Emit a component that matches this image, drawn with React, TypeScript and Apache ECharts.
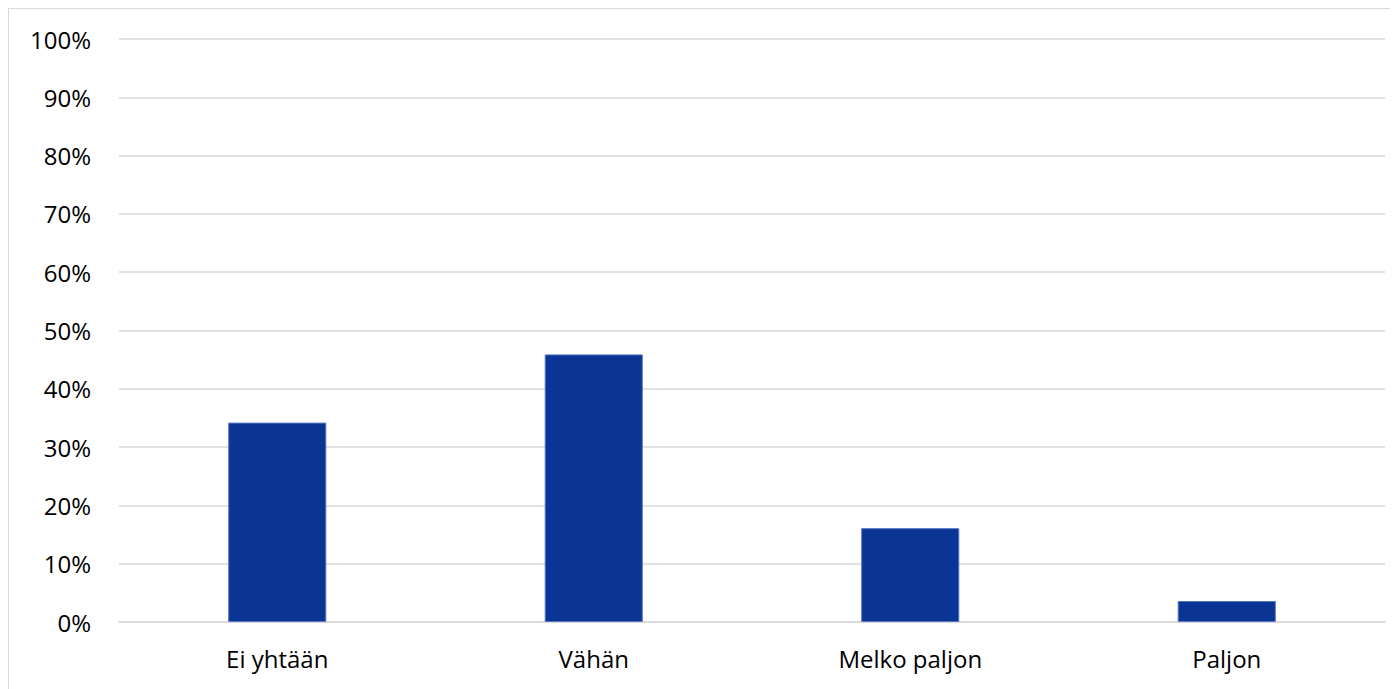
import React, { useEffect, useRef } from "react";
import * as echarts from "echarts";

const categories = ["Ei yhtään", "Vähän", "Melko paljon", "Paljon"];
const values = [34.2, 45.9, 16.1, 3.6];

export default function App() {
  const ref = useRef<HTMLDivElement>(null);
  useEffect(() => {
    const chart = echarts.init(ref.current!, null, { renderer: "svg" });
    chart.setOption({
      animation: false,
      textStyle: { fontFamily: "Open Sans, Noto Sans, sans-serif" },
      grid: { left: 111, right: 13, top: 31, bottom: 67, containLabel: false },
      xAxis: {
        type: "category",
        data: categories,
        axisLine: { lineStyle: { color: "#d9d9d9", width: 1.5 } },
        axisTick: { show: false },
        axisLabel: { color: "#000", fontSize: 24, margin: 24 },
      },
      yAxis: {
        type: "value",
        min: 0,
        max: 100,
        interval: 10,
        axisLine: { show: false },
        axisTick: { show: false },
        splitLine: { lineStyle: { color: "#d9d9d9", width: 1.5 } },
        axisLabel: { color: "#000", fontSize: 24, margin: 28, formatter: "{value}%" },
      },
      series: [
        {
          type: "bar",
          data: values,
          barWidth: "31%",
          itemStyle: { color: "#0a3594", borderColor: "#5577c4", borderWidth: 1 },
        },
      ],
    });
    return () => chart.dispose();
  }, []);
  return (
    <div
      style={{
        width: 1390,
        height: 681,
        boxSizing: "border-box",
        borderTop: "1.5px solid #d9d9d9",
        borderLeft: "1.5px solid #d9d9d9",
        borderRight: "1.5px solid #d9d9d9",
        position: "relative",
      }}
    >
      <div ref={ref} style={{ position: "absolute", left: -1.5, top: -1.5, width: 1390, height: 681 }} />
    </div>
  );
}
